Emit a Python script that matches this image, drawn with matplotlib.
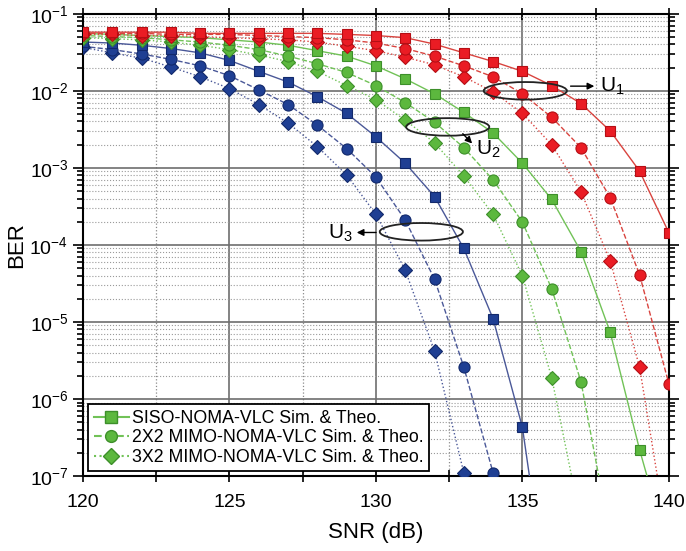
import numpy as np
import matplotlib
matplotlib.use("Agg")
import matplotlib.pyplot as plt
from matplotlib.patches import Ellipse
from matplotlib.lines import Line2D
from matplotlib.ticker import NullFormatter, LogLocator

plt.rcParams['font.family'] = ['Liberation Sans', 'DejaVu Sans']
plt.rcParams['mathtext.fontset'] = 'custom'
plt.rcParams['mathtext.rm'] = 'Liberation Sans'
plt.rcParams['mathtext.it'] = 'Liberation Sans'
plt.rcParams['mathtext.default'] = 'regular'

snr = np.arange(120, 141)

# U1 (red)
u1_siso = [0.0577, 0.0577, 0.0577, 0.0577, 0.0557, 0.0557, 0.0557, 0.0557, 0.0557, 0.054, 0.0522,
           0.049, 0.0404, 0.0311, 0.024, 0.0179, 0.0117, 0.00684, 0.00301, 9.1e-4, 1.44e-4]
u1_mimo22 = [0.0557, 0.0557, 0.0557, 0.054, 0.054, 0.054, 0.0522, 0.0506, 0.049, 0.0459, 0.0417,
             0.0354, 0.0282, 0.0211, 0.0152, 0.00916, 0.00454, 0.00183, 4.1e-4, 4.1e-5, 1.58e-6]
u1_mimo32 = [0.054, 0.054, 0.0522, 0.0522, 0.0506, 0.049, 0.0474, 0.0459, 0.043, 0.0378, 0.0332,
             0.0273, 0.0218, 0.0152, 0.0097, 0.0051, 0.002, 4.9e-4, 6.2e-5, 2.6e-6, 1.2e-8]

# U2 (green)
u2_siso = [0.0557, 0.054, 0.0522, 0.0506, 0.049, 0.0459, 0.043, 0.039, 0.0332, 0.0282, 0.0211,
           0.0143, 0.00916, 0.00525, 0.00284, 0.00115, 3.9e-4, 8.2e-5, 7.3e-6, 2.2e-7, 1.0e-8]
u2_mimo22 = [0.0522, 0.0506, 0.049, 0.0459, 0.043, 0.039, 0.0343, 0.0282, 0.0225, 0.0173, 0.0117,
             0.00704, 0.00392, 0.00183, 6.98e-4, 1.98e-4, 2.7e-5, 1.68e-6, 1.6e-8]
u2_mimo32 = [0.049, 0.0474, 0.0459, 0.043, 0.039, 0.0343, 0.0292, 0.024, 0.0179, 0.0117, 0.00769,
             0.00416, 0.00212, 7.85e-4, 2.5e-4, 3.96e-5, 1.9e-6, 2.5e-8]

# U3 (blue)
u3_siso = [0.043, 0.0417, 0.039, 0.0354, 0.0311, 0.0248, 0.0179, 0.013, 0.0084, 0.0051, 0.00253,
           1.15e-3, 4.25e-4, 9.0e-5, 1.1e-5, 4.3e-7, 1.0e-9]
u3_mimo22 = [0.0378, 0.0343, 0.0301, 0.0256, 0.0211, 0.0157, 0.0103, 0.00664, 0.00359, 0.00178,
             7.6e-4, 2.1e-4, 3.6e-5, 2.6e-6, 1.1e-7, 1.0e-9]
u3_mimo32 = [0.0366, 0.0311, 0.0265, 0.0204, 0.0152, 0.0107, 0.00664, 0.00381, 0.00189, 8.1e-4,
             2.5e-4, 4.7e-5, 4.2e-6, 1.1e-7, 1.0e-9]

x_ticks = [120, 125, 130, 135, 140]
x_ticklabels = ['120', '125', '130', '135', '140']
y_ticks = [1e-7, 1e-6, 1e-5, 1e-4, 1e-3, 1e-2, 1e-1]

legend_labels = ["SISO-NOMA-VLC Sim. & Theo.",
                 "2X2 MIMO-NOMA-VLC Sim. & Theo.",
                 "3X2 MIMO-NOMA-VLC Sim. & Theo."]

colors = {
    'red': dict(line='#d9443f', face='#ea1c24', edge='#b50e14'),
    'green': dict(line='#71c257', face='#5cb83e', edge='#3d8f2a'),
    'blue': dict(line='#4a5898', face='#1f3f93', edge='#12296b'),
}

fig = plt.figure(figsize=(6.86, 5.51), dpi=100)
ax = fig.add_axes([0.121, 0.136, 0.854, 0.839])

def draw(vals, col, marker, ls, ms):
    c = colors[col]
    x = snr[:len(vals)]
    ax.plot(x, vals, linestyle=ls, color=c['line'], lw=1.0, zorder=3)
    ax.plot(x, vals, linestyle='none', marker=marker, ms=ms, mfc=c['face'],
            mec=c['edge'], mew=0.8, zorder=4)

for col, (s, m2, m3) in [('blue', (u3_siso, u3_mimo22, u3_mimo32)),
                         ('green', (u2_siso, u2_mimo22, u2_mimo32)),
                         ('red', (u1_siso, u1_mimo22, u1_mimo32))]:
    draw(m3, col, 'D', ':', 7)
    draw(m2, col, 'o', '--', 8)
    draw(s, col, 's', '-', 7.5)

ax.set_yscale('log')
ax.set_xlim(120, 140)
ax.set_ylim(1e-7, 1e-1)
ax.set_xticks(x_ticks)
ax.set_xticks([122.5, 127.5, 132.5, 137.5], minor=True)
ax.set_xticklabels(x_ticklabels)
ax.set_yticks(y_ticks)
ax.yaxis.set_minor_locator(LogLocator(base=10, subs=np.arange(2, 10)))
ax.yaxis.set_minor_formatter(NullFormatter())
ax.set_ylim(1e-7, 1e-1)

ax.grid(True, which='major', axis='both', color='#6e6e6e', lw=1.2, ls='-', zorder=1)
ax.grid(True, which='minor', axis='y', color='#9a9a9a', lw=0.8, ls=':', zorder=1)
ax.grid(True, which='minor', axis='x', color='#8a8a8a', lw=0.9, ls=':', zorder=1)

ax.tick_params(axis='x', which='both', direction='inout', top=True, labelsize=14, length=8, width=1.2, pad=9)
ax.tick_params(axis='y', which='both', direction='out', right=True, labelsize=14, width=1.2)
ax.tick_params(axis='y', which='major', length=7)
ax.tick_params(axis='y', which='minor', length=4)
for sp in ax.spines.values():
    sp.set_linewidth(1.5)

ax.set_xlabel('SNR (dB)', fontsize=16, labelpad=8)
ax.set_ylabel('BER', fontsize=16, labelpad=2)

# legend
g = colors['green']
handles = [Line2D([], [], color=g['line'], ls='-', marker='s', ms=8, mfc=g['face'], mec=g['edge']),
           Line2D([], [], color=g['line'], ls='--', marker='o', ms=8.5, mfc=g['face'], mec=g['edge']),
           Line2D([], [], color=g['line'], ls=':', marker='D', ms=8, mfc=g['face'], mec=g['edge'])]
leg = ax.legend(handles, legend_labels, loc='lower left', bbox_to_anchor=(0.009, 0.01),
                borderaxespad=0, fontsize=12.8, frameon=True, fancybox=False,
                edgecolor='black', handlelength=2.0, handletextpad=0.15,
                labelspacing=0.15, borderpad=0.3, framealpha=1)
leg.get_frame().set_linewidth(1.3)
leg.set_zorder(10)

# annotations (ellipses + arrows)
to_ax = ax.transData + ax.transAxes.inverted()

def ell(xd, yd, w, h):
    cx, cy = to_ax.transform((xd, yd))
    e = Ellipse((cx, cy), w, h, transform=ax.transAxes, fill=False,
                ec='#222222', lw=1.3, zorder=6)
    ax.add_patch(e)

arrow = dict(arrowstyle='-|>', color='black', lw=1.0, mutation_scale=10)
ell(135.1, 1.0e-2, 0.142, 0.038)
ax.annotate('', xy=(137.55, 1.15e-2), xytext=(136.55, 1.15e-2), arrowprops=arrow, zorder=7)
ax.text(137.65, 1.15e-2, 'U$_1$', fontsize=15, va='center', ha='left', zorder=7)

ell(132.45, 3.4e-3, 0.142, 0.038)
ax.annotate('', xy=(133.35, 1.95e-3), xytext=(132.9, 2.95e-3), arrowprops=arrow, zorder=7)
ax.text(133.4, 1.75e-3, 'U$_2$', fontsize=15, va='center', ha='left', zorder=7)

ell(131.55, 1.48e-4, 0.142, 0.038)
ax.annotate('', xy=(129.25, 1.45e-4), xytext=(130.1, 1.45e-4), arrowprops=arrow, zorder=7)
ax.text(129.2, 1.4e-4, 'U$_3$', fontsize=15, va='center', ha='right', zorder=7)

fig.savefig('out.png', dpi=100)
